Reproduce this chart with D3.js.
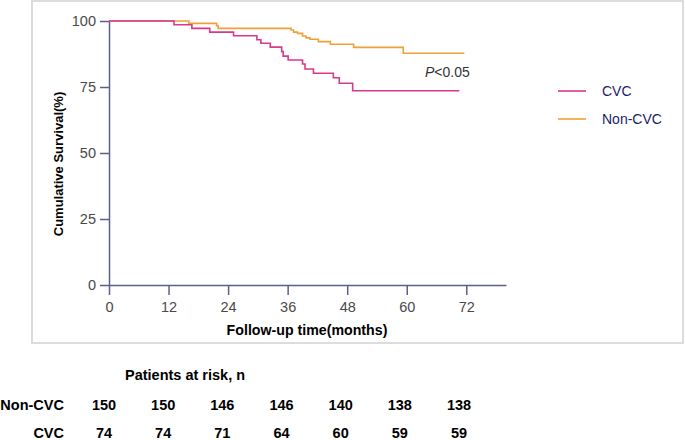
<!DOCTYPE html>
<html><head><meta charset="utf-8">
<script src="https://cdn.jsdelivr.net/npm/d3@7"></script>
<style>body{margin:0;background:#fff}svg{display:block}</style>
</head><body><svg id="c" width="685" height="440"></svg>
<script>
const cvcTime = [0, 13.1, 16.7, 20.3, 25.1, 29.8, 30.6, 32.5, 34.8, 35.1, 36.1, 39.0, 39.5, 41.2, 45.2, 46.4, 49.1, 70.6];
const cvcSurv = [100, 98.6, 97.2, 95.8, 94.4, 92.9, 91.6, 90.1, 88.4, 86.7, 85.2, 83.7, 81.8, 80.2, 78.5, 76.4, 73.6, 73.6];
const nonTime = [0, 16.1, 21.7, 22.0, 36.7, 37.2, 38.0, 39.0, 39.7, 40.5, 42.2, 44.6, 49.3, 59.3, 71.6];
const nonSurv = [100, 99.1, 98.2, 97.2, 96.6, 95.8, 95.3, 94.3, 93.6, 93.1, 92.2, 91.2, 90.0, 87.8, 87.8];
const xTicks = [0, 12, 24, 36, 48, 60, 72];
const yTicks = [0, 25, 50, 75, 100];
const riskCols = ["0", "12", "24", "36", "48", "60", "72"];
const riskNon = [150, 150, 146, 146, 140, 138, 138];
const riskCvc = [74, 74, 71, 64, 60, 59, 59];
const seriesNames = ["CVC", "Non-CVC"];
const seriesColors = ["#d8398a", "#f0a038"];

const svg = d3.select("#c");
const axisCol = "#5b5f8e";
const font = "Arial, 'Liberation Sans', sans-serif";

svg.append("rect").attr("x", 32).attr("y", 1).attr("width", 651).attr("height", 342)
  .attr("fill", "none").attr("stroke", "#dcdcdc").attr("stroke-width", 2);

const x = d3.scaleLinear().domain([0, 80]).range([109, 506]);
const y = d3.scaleLinear().domain([0, 100]).range([285, 21]);

const xa = svg.append("g").attr("transform", "translate(0,285)")
  .call(d3.axisBottom(x).tickValues(xTicks).tickSize(10).tickPadding(7).tickSizeOuter(0));
const ya = svg.append("g").attr("transform", "translate(109,0)")
  .call(d3.axisLeft(y).tickValues(yTicks).tickSize(9).tickPadding(4).tickSizeOuter(0));
[xa, ya].forEach(a => {
  a.select(".domain").attr("stroke", axisCol).attr("stroke-width", 1.5);
  a.selectAll(".tick line").attr("stroke", axisCol).attr("stroke-width", 1.5);
  a.selectAll(".tick text").attr("fill", "#4a4a4a").style("font-family", font).style("font-size", "14.5px");
});

const line = d3.line().x(d => x(d[0])).y(d => y(d[1])).curve(d3.curveStepAfter);
const series = [
  {name: seriesNames[1], pts: d3.zip(nonTime, nonSurv), color: seriesColors[1]},
  {name: seriesNames[0], pts: d3.zip(cvcTime, cvcSurv), color: seriesColors[0]}
];
svg.selectAll("path.km").data(series).join("path").attr("class", "km")
  .attr("d", d => line(d.pts)).attr("fill", "none")
  .attr("stroke", d => d.color).attr("stroke-width", 1.6);

svg.append("text").attr("x", 425).attr("y", 77).style("font-family", font).style("font-size", "14px").attr("fill", "#333")
  .call(t => { t.append("tspan").attr("font-style", "italic").text("P"); t.append("tspan").text("<0.05"); });

svg.append("text").attr("transform", "translate(63,164) rotate(-90)").attr("text-anchor", "middle")
  .style("font-family", font).style("font-size", "13px").style("font-weight", "bold").text("Cumulative Survival(%)");
svg.append("text").attr("x", 307).attr("y", 335).attr("text-anchor", "middle")
  .style("font-family", font).style("font-size", "14.2px").style("font-weight", "bold").text("Follow-up time(months)");

const legY = d3.scalePoint().domain(seriesNames).range([91, 119]);
const leg = svg.selectAll("g.leg").data(seriesNames).join("g").attr("class", "leg")
  .attr("transform", d => `translate(558,${legY(d)})`);
leg.append("line").attr("x1", 0).attr("x2", 28).attr("stroke", (d, i) => seriesColors[i]).attr("stroke-width", 1.6);
leg.append("text").attr("x", 44).attr("dy", "0.35em").style("font-family", font).style("font-size", "14px")
  .attr("fill", "#1c1c6a").text(d => d);

svg.append("text").attr("x", 125).attr("y", 380).style("font-family", font).style("font-size", "14.5px")
  .style("font-weight", "bold").text("Patients at risk, n");
const cx = d3.scalePoint().domain(riskCols).range([104, 459]);
const rows = [{label: "Non-CVC", vals: riskNon, base: 410}, {label: "CVC", vals: riskCvc, base: 438}];
rows.forEach(r => {
  svg.append("text").attr("x", 64).attr("y", r.base).attr("text-anchor", "end")
    .style("font-family", font).style("font-size", "14.5px").style("font-weight", "bold").text(r.label);
  svg.selectAll(null).data(r.vals).join("text").attr("x", (d, i) => cx(riskCols[i])).attr("y", r.base)
    .attr("text-anchor", "middle").style("font-family", font).style("font-size", "14.5px").style("font-weight", "bold").text(d => d);
});
</script></body></html>
